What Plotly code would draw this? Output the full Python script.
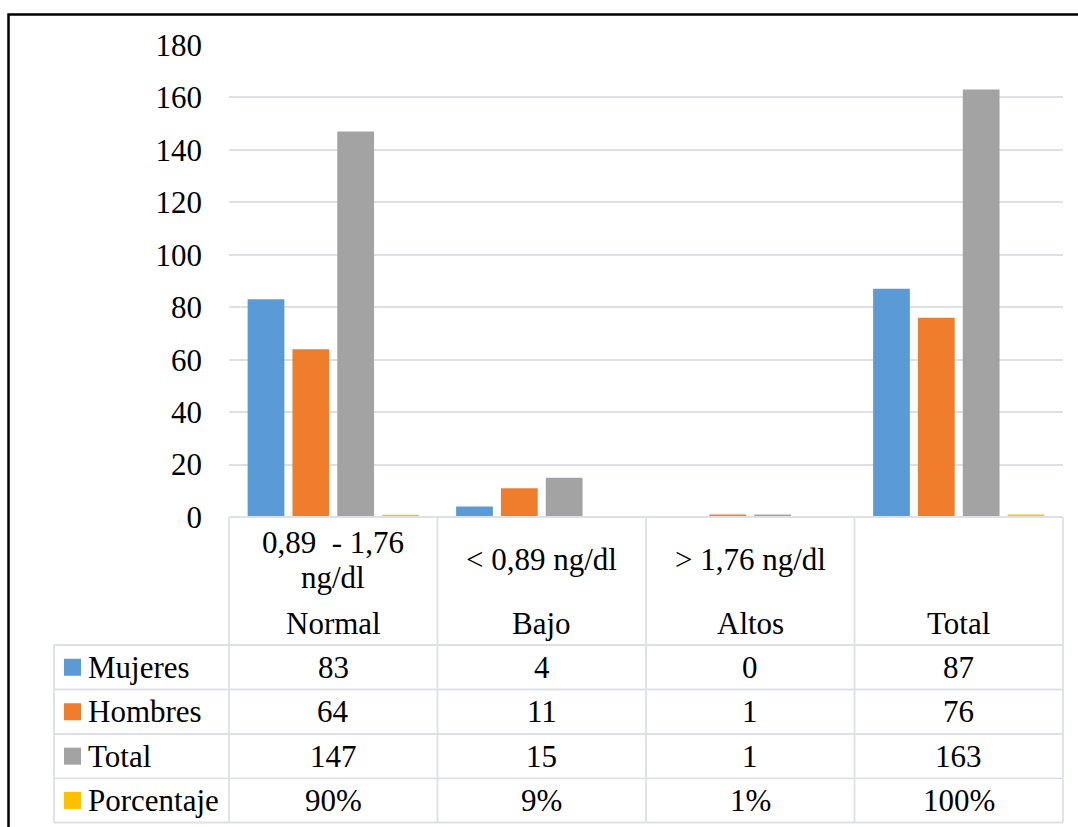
import plotly.graph_objects as go

# ---- data ----
categories = ["Normal", "Bajo", "Altos", "Total"]
ranges = [["0,89\u00a0 - 1,76", "ng/dl"], ["< 0,89 ng/dl"], ["> 1,76 ng/dl"], []]
series_names = ["Mujeres", "Hombres", "Total", "Porcentaje"]
mujeres = [83, 4, 0, 87]
hombres = [64, 11, 1, 76]
total = [147, 15, 1, 163]
porcentaje = [0.90, 0.09, 0.01, 1.00]
y_ticks = [0, 20, 40, 60, 80, 100, 120, 140, 160, 180]

colors = ["#5b9bd5", "#ef7d2c", "#a3a3a3", "#ffc000"]
values = [mujeres, hombres, total, porcentaje]
cell_text = [
    [str(v) for v in mujeres],
    [str(v) for v in hombres],
    [str(v) for v in total],
    [f"{v:.0%}" for v in porcentaje],
]

# ---- page geometry (pixels) ----
W, H = 1078, 827
L, R, T, B = 229, 1063, 45, 517
FONT = "Times New Roman, Liberation Serif, serif"
FS = 31
GRID = "#dde1e7"


def px_x(px):
    return (px - L) / (R - L)


def px_y(py):
    return (B - py) / (B - T)


fig = go.Figure()
for name, vals, col in zip(series_names, values, colors):
    fig.add_trace(go.Bar(x=categories, y=vals, name=name, marker=dict(color=col, line=dict(width=0))))

fig.update_layout(
    width=W, height=H,
    margin=dict(l=L, r=W - R, t=T, b=H - B),
    paper_bgcolor="white", plot_bgcolor="white",
    barmode="group", bargap=0.14, bargroupgap=0.18,
    showlegend=False,
    font=dict(family=FONT, size=FS, color="black"),
)
fig.update_xaxes(showticklabels=False, showgrid=False, zeroline=False, showline=False,
                 range=[-0.5, 3.5])
fig.update_yaxes(range=[0, 180], tickvals=y_ticks, showgrid=True, gridcolor=GRID, gridwidth=1.5,
                 zeroline=False, showline=False, ticks="", ticklabelstandoff=26,
                 tickfont=dict(family=FONT, size=FS, color="black"))

shapes = []
line = dict(color=GRID, width=1.8)

# data-table grid
row_edges = [645, 689.5, 734, 778.3, 822.5]
legend_left = 54
shapes.append(dict(type="line", xref="paper", yref="paper", x0=0, x1=1,
                   y0=px_y(B), y1=px_y(B), line=line))
for ry in row_edges:
    shapes.append(dict(type="line", xref="paper", yref="paper", x0=px_x(legend_left), x1=1,
                       y0=px_y(ry), y1=px_y(ry), line=line))
for i in range(len(categories) + 1):
    xp = i / len(categories)
    shapes.append(dict(type="line", xref="paper", yref="paper", x0=xp, x1=xp,
                       y0=px_y(B), y1=px_y(row_edges[-1]), line=line))
shapes.append(dict(type="line", xref="paper", yref="paper", x0=px_x(legend_left), x1=px_x(legend_left),
                   y0=px_y(row_edges[0]), y1=px_y(row_edges[-1]), line=line))

# outer frame
shapes.append(dict(type="rect", xref="paper", yref="paper", x0=px_x(8.5), x1=px_x(1100),
                   y0=px_y(14.5), y1=px_y(850), line=dict(color="black", width=2.5)))

annotations = []
# category headers
for cat, rng in zip(categories, ranges):
    if len(rng) == 2:
        ys = [542, 577]
    elif len(rng) == 1:
        ys = [559]
    else:
        ys = []
    for txt, yy in zip(rng, ys):
        annotations.append(dict(x=cat, xref="x", y=px_y(yy), yref="paper", text=txt,
                                showarrow=False, xanchor="center", yanchor="middle"))
    annotations.append(dict(x=cat, xref="x", y=px_y(623), yref="paper", text=cat,
                            showarrow=False, xanchor="center", yanchor="middle"))

# table rows: legend key, series name, values
for r, (name, col, texts) in enumerate(zip(series_names, colors, cell_text)):
    mid = (row_edges[r] + row_edges[r + 1]) / 2
    shapes.append(dict(type="rect", xref="paper", yref="paper", x0=px_x(64), x1=px_x(81),
                       y0=px_y(mid - 8.5), y1=px_y(mid + 8.5), fillcolor=col, line=dict(width=0)))
    annotations.append(dict(x=px_x(86), xref="paper", y=px_y(mid), yref="paper", text=name,
                            showarrow=False, xanchor="left", yanchor="middle"))
    for cat, txt in zip(categories, texts):
        annotations.append(dict(x=cat, xref="x", y=px_y(mid), yref="paper", text=txt,
                                showarrow=False, xanchor="center", yanchor="middle"))

fig.update_layout(shapes=shapes, annotations=annotations)
fig.write_html("out.html")
